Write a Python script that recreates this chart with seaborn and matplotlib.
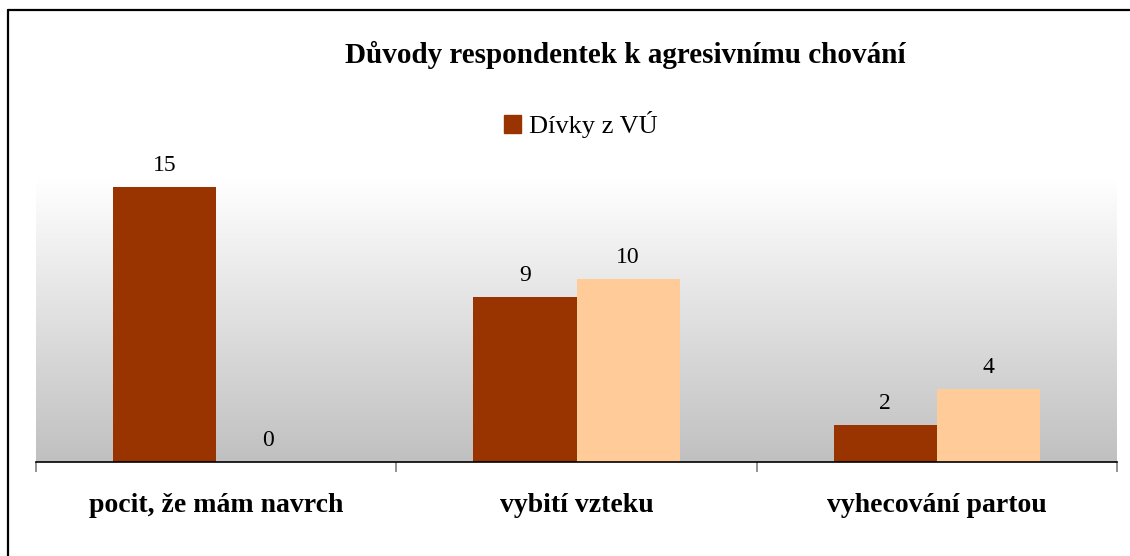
import numpy as np
import pandas as pd
import matplotlib.pyplot as plt
import seaborn as sns
from matplotlib.colors import LinearSegmentedColormap
from matplotlib.patches import Patch
from matplotlib.lines import Line2D

# --- Data ---
kategorie = ["pocit, že mám navrch", "vybití vzteku", "vyhecování partou"]
divky_vu = [15, 9, 2]
druha_skupina = [0, 10, 4]
skupiny = ["Dívky z VÚ", "Dívky ze ZŠ"]
barvy = ["#993300", "#FFCC99"]

df = pd.DataFrame({
    "kategorie": kategorie * 2,
    "pocet": divky_vu + druha_skupina,
    "skupina": [skupiny[0]] * 3 + [skupiny[1]] * 3,
})

sns.set_style("white")
plt.rcParams['font.family'] = ['Liberation Serif', 'DejaVu Serif']
plt.rcParams['text.color'] = 'black'
plt.rcParams['xtick.color'] = 'black'

fig = plt.figure(figsize=(11.3, 5.56), dpi=100)
ax = fig.add_axes([36 / 1130, 94 / 556, 1081 / 1130, 283 / 556])

# gradient pozadi
cmap = LinearSegmentedColormap.from_list("grad", ["#C0C0C0", "#FFFFFF"])
grad = np.linspace(0, 1, 256).reshape(-1, 1)
ax.imshow(grad, extent=[0, 1, 0, 1], transform=ax.transAxes, cmap=cmap,
          aspect="auto", origin="lower", zorder=0)

sns.barplot(data=df, x="kategorie", y="pocet", hue="skupina", palette=barvy,
            width=0.572, gap=0, saturation=1, legend=False, ax=ax, zorder=2,
            linewidth=0)

for cont in ax.containers:
    ax.bar_label(cont, padding=8, fontsize=17, color="black")

ax.set_xlim(-0.5, 2.5)
ax.set_ylim(0, 15.44)
ax.set_yticks([])
ax.set_xlabel("")
ax.set_ylabel("")
for s in ["top", "right", "left"]:
    ax.spines[s].set_visible(False)
ax.spines["bottom"].set_color("black")
ax.spines["bottom"].set_linewidth(1.2)
ax.set_xticks([0, 1, 2])
ax.set_xticklabels(kategorie, fontweight="bold", fontsize=20, color="black")
ax.tick_params(axis="x", which="major", length=0, pad=22)
ax.set_xticks([-0.5, 0.5, 1.5, 2.5], minor=True)
ax.tick_params(axis="x", which="minor", length=7, color="#808080", width=1.2,
               direction="out", bottom=True)

fig.text(625 / 1130, 1 - 55 / 556, "Důvody respondentek k agresivnímu chování",
         ha="center", va="center", fontsize=21, fontweight="bold", color="black")

fig.legend(handles=[Patch(color=barvy[0], label=skupiny[0])],
           loc="center", bbox_to_anchor=(581 / 1130, 1 - 125 / 556),
           frameon=False, fontsize=19, handlelength=0.65, handleheight=0.65,
           handletextpad=0.3, borderaxespad=0, labelcolor="black")

# ramecek
fig.add_artist(Line2D([8 / 1130, 8 / 1130], [0, 1 - 10 / 556], color="black", lw=1.6))
fig.add_artist(Line2D([8 / 1130, 1], [1 - 10 / 556, 1 - 10 / 556], color="black", lw=1.6))

fig.savefig("out.png", dpi=100)
